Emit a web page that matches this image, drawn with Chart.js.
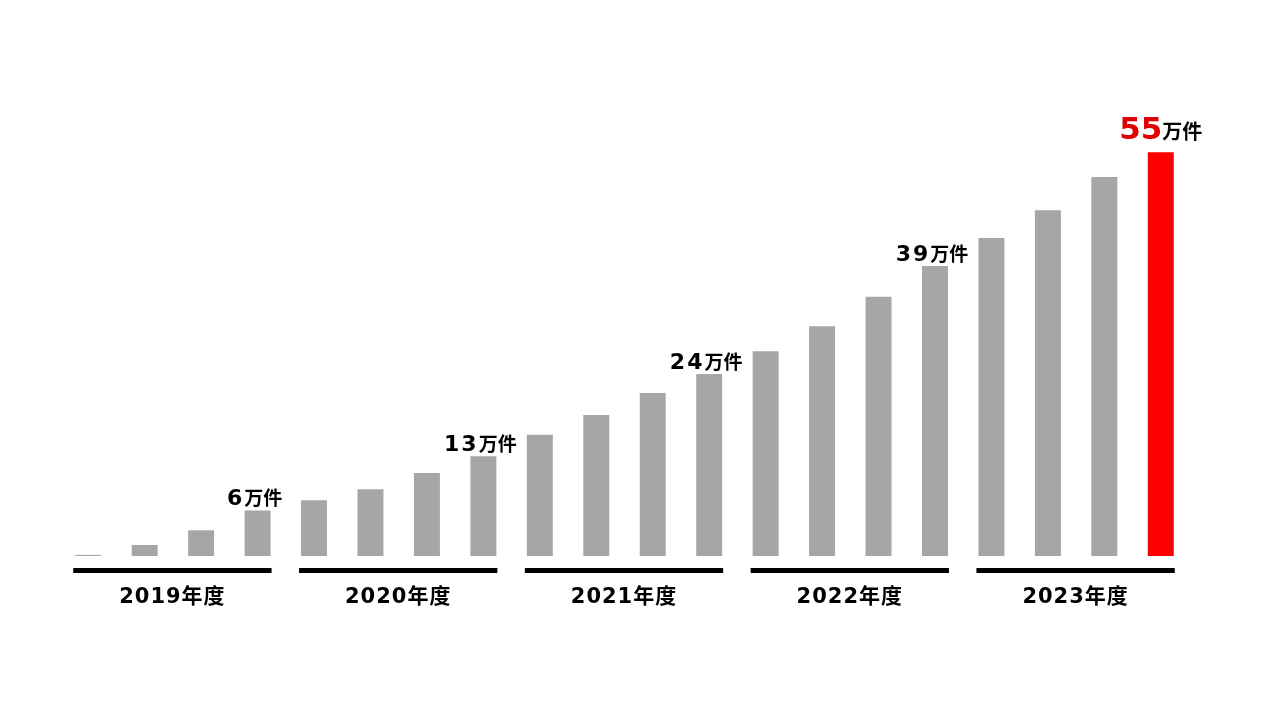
<!DOCTYPE html>
<html>
<head>
<meta charset="utf-8">
<style>
html,body{margin:0;padding:0;background:#fff;}
#wrap{width:1280px;height:720px;position:relative;}
</style>
<script src="https://cdn.jsdelivr.net/npm/chart.js@4.4.1/dist/chart.umd.min.js"></script>
</head>
<body>
<div id="wrap"><canvas id="c" width="1280" height="720"></canvas></div>
<script>
// Data
const quarters = ['2019Q1','2019Q2','2019Q3','2019Q4','2020Q1','2020Q2','2020Q3','2020Q4','2021Q1','2021Q2','2021Q3','2021Q4','2022Q1','2022Q2','2022Q3','2022Q4','2023Q1','2023Q2','2023Q3','2023Q4'];
const values = [0.15, 1.5, 3.5, 6.2, 7.6, 9.1, 11.3, 13.6, 16.5, 19.2, 22.2, 24.8, 27.9, 31.3, 35.3, 39.5, 43.3, 47.1, 51.6, 55];
const yearLabels = ['2019年度','2020年度','2021年度','2022年度','2023年度'];
const annotIndex = [3, 7, 11, 15, 19];
const annotNumbers = ['6','13','24','39','55'];
const annotUnit = '万件';

const barColors = values.map((v,i)=> i===values.length-1 ? '#ff0000' : '#a6a6a6');
const FONT = '"DejaVu Sans", "Noto Sans CJK JP", sans-serif';

const overlay = {
  id:'overlay',
  afterDatasetsDraw(chart){
    const ctx = chart.ctx;
    const meta = chart.getDatasetMeta(0);
    const base = chart.scales.y.getPixelForValue(0);
    ctx.save();
    // year underlines and labels
    yearLabels.forEach((lab, k)=>{
      const first = meta.data[k*4], last = meta.data[k*4+3];
      const l = first.x - first.width/2 - 2;
      const r = last.x + last.width/2 + 1;
      ctx.fillStyle = '#000';
      ctx.fillRect(l, base+12, r-l, 5);
      ctx.font = 'bold 21px ' + FONT;
      ctx.letterSpacing = '1px';
      ctx.textAlign = 'center';
      ctx.textBaseline = 'middle';
      ctx.fillText(lab, (l+r)/2, base+42);
    });
    ctx.letterSpacing = '0px';
    // value annotations
    annotIndex.forEach((idx, k)=>{
      const bar = meta.data[idx];
      const isLast = k === annotIndex.length-1;
      const numFont = isLast ? 'bold 31px ' + FONT : 'bold 22px ' + FONT;
      const unitFont = isLast ? 'bold 20px ' + FONT : 'bold 19px ' + FONT;
      ctx.font = numFont;
      ctx.letterSpacing = isLast ? '0px' : '2px';
      const wN = ctx.measureText(annotNumbers[k]).width;
      ctx.font = unitFont;
      ctx.letterSpacing = '0px';
      const wU = ctx.measureText(annotUnit).width;
      const total = wN + wU;
      const cx = bar.x + (isLast ? 0 : -3);
      const left = cx - total/2;
      const baseline = bar.y - (isLast ? 13 : 5);
      ctx.textAlign = 'left';
      ctx.textBaseline = 'alphabetic';
      ctx.font = numFont;
      ctx.letterSpacing = isLast ? '0px' : '2px';
      ctx.fillStyle = isLast ? '#e00000' : '#000';
      ctx.fillText(annotNumbers[k], left, baseline);
      ctx.letterSpacing = '0px';
      ctx.font = unitFont;
      ctx.fillStyle = '#000';
      ctx.fillText(annotUnit, left + wN, baseline);
    });
    ctx.restore();
  }
};

new Chart(document.getElementById('c'), {
  type:'bar',
  data:{
    labels: quarters,
    datasets:[{
      data: values,
      backgroundColor: barColors,
      borderWidth: 0,
      categoryPercentage: 1.0,
      barPercentage: 0.46
    }]
  },
  options:{
    responsive:false,
    animation:false,
    devicePixelRatio:1,
    layout:{padding:{left:60, right:91, top:42, bottom:164}},
    plugins:{legend:{display:false}, tooltip:{enabled:false}},
    scales:{
      x:{display:false, grid:{display:false}},
      y:{display:false, min:0, max:70, grid:{display:false}}
    }
  },
  plugins:[overlay]
});
</script>
</body>
</html>
